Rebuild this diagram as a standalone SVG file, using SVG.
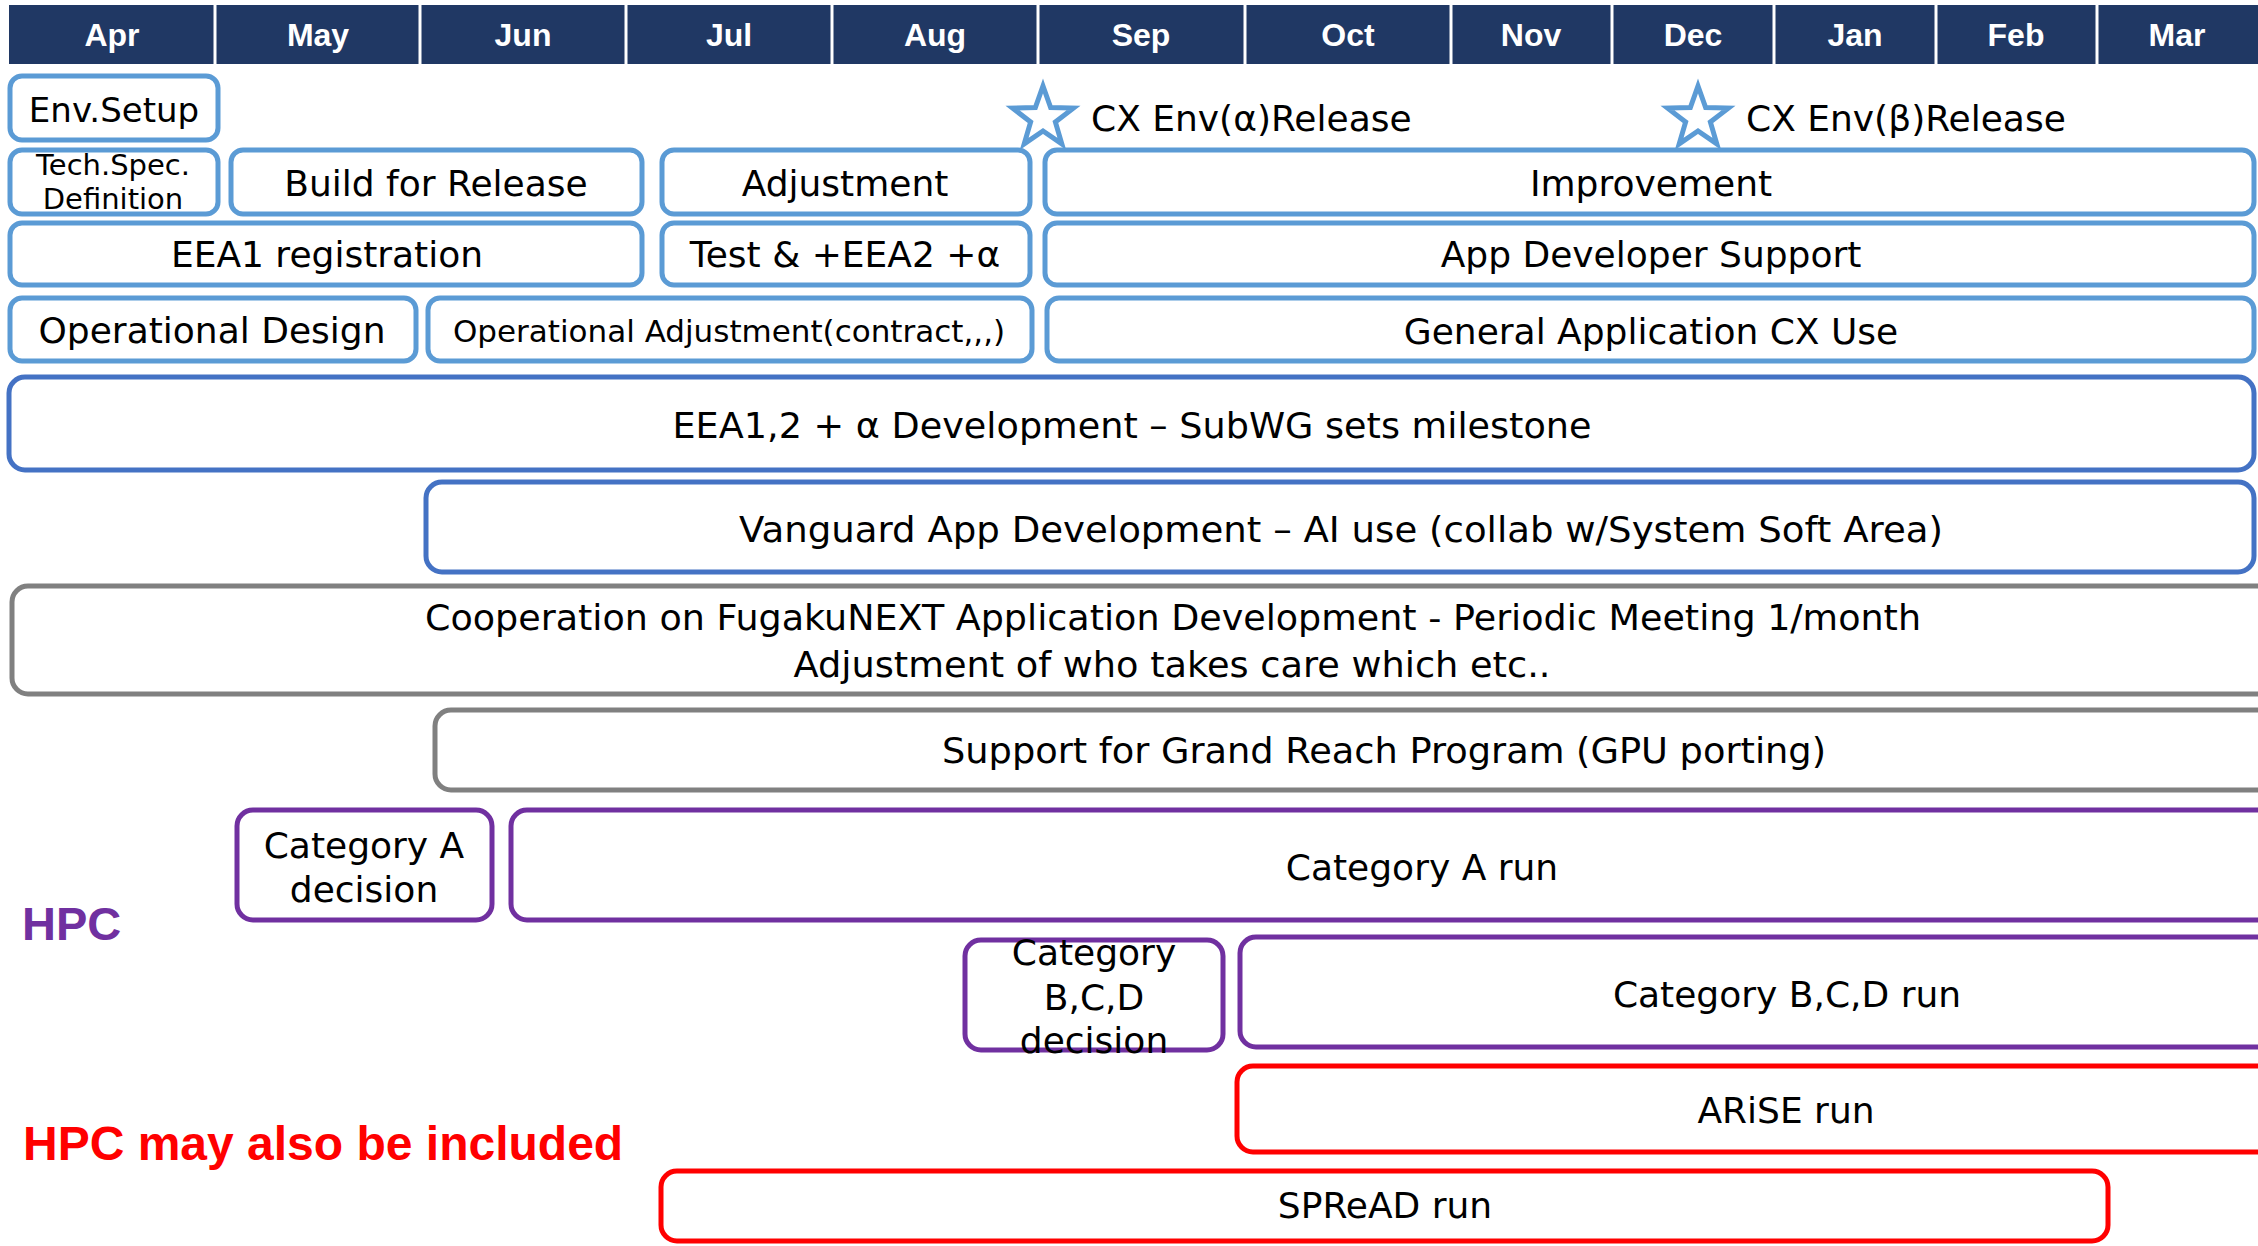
<svg xmlns="http://www.w3.org/2000/svg" width="2258" height="1246" viewBox="0 0 2258 1246">
<style>
.hdr{fill:#203864}
.mon{font-family:"Liberation Sans",Arial,sans-serif;font-weight:bold;font-size:32px;fill:#fff;text-anchor:middle}
.t{font-family:"DejaVu Sans",Verdana,sans-serif;font-size:36px;fill:#000;text-anchor:middle}
.lb{fill:#fff;stroke:#5B9BD5;stroke-width:5}
.db{fill:#fff;stroke:#4472C4;stroke-width:5}
.gr{fill:#fff;stroke:#808080;stroke-width:5}
.pu{fill:#fff;stroke:#7030A0;stroke-width:5}
.rd{fill:#fff;stroke:#FF0000;stroke-width:5}
.star{fill:#fff;stroke:#5B9BD5;stroke-width:5;stroke-linejoin:miter}
.big{font-family:"Liberation Sans",Arial,sans-serif;font-weight:bold;font-size:47px}
</style>
<defs>
<polygon id="starShape" class="star" points="0,-32 7.64,-10.52 30.43,-9.89 12.36,4.02 18.81,25.89 0,13 -18.81,25.89 -12.36,4.02 -30.43,-9.89 -7.64,-10.52"/>
</defs>
<rect width="2258" height="1246" fill="#fff"/>
<g id="header">
<rect class="hdr" x="9" y="5" width="2249" height="59"/>
<g stroke="#fff" stroke-width="3">
<line x1="215" y1="5" x2="215" y2="64"/><line x1="420" y1="5" x2="420" y2="64"/><line x1="626" y1="5" x2="626" y2="64"/><line x1="832" y1="5" x2="832" y2="64"/><line x1="1038" y1="5" x2="1038" y2="64"/><line x1="1245" y1="5" x2="1245" y2="64"/><line x1="1451" y1="5" x2="1451" y2="64"/><line x1="1612" y1="5" x2="1612" y2="64"/><line x1="1774" y1="5" x2="1774" y2="64"/><line x1="1936" y1="5" x2="1936" y2="64"/><line x1="2097" y1="5" x2="2097" y2="64"/>
</g>
<text class="mon" x="112" y="46">Apr</text><text class="mon" x="318" y="46">May</text><text class="mon" x="523" y="46">Jun</text><text class="mon" x="729" y="46">Jul</text><text class="mon" x="935" y="46">Aug</text><text class="mon" x="1141" y="46">Sep</text><text class="mon" x="1348" y="46">Oct</text><text class="mon" x="1531" y="46">Nov</text><text class="mon" x="1693" y="46">Dec</text><text class="mon" x="1855" y="46">Jan</text><text class="mon" x="2016" y="46">Feb</text><text class="mon" x="2177" y="46">Mar</text>
</g>
<g id="env-setup"><rect class="lb" x="10" y="76" width="208" height="64" rx="12"/><text class="t" x="114" y="122" style="font-size:34px">Env.Setup</text></g>
<g id="milestone-alpha"><use href="#starShape" x="1043" y="118"/><text class="t" x="1091" y="131" style="text-anchor:start">CX Env(α)Release</text></g>
<g id="milestone-beta"><use href="#starShape" x="1698" y="118"/><text class="t" x="1746" y="131" style="text-anchor:start">CX Env(β)Release</text></g>
<g id="tech-spec"><rect class="lb" x="10" y="150" width="208" height="64" rx="12"/><text class="t" x="113" y="175" style="font-size:29px">Tech.Spec.</text><text class="t" x="113" y="209" style="font-size:29px">Definition</text></g>
<g id="build"><rect class="lb" x="231" y="150" width="411" height="64" rx="12"/><text class="t" x="436" y="196">Build for Release</text></g>
<g id="adjustment"><rect class="lb" x="662" y="150" width="368" height="64" rx="12"/><text class="t" x="845" y="196">Adjustment</text></g>
<g id="improvement"><rect class="lb" x="1045" y="150" width="1209" height="64" rx="12"/><text class="t" x="1651" y="196">Improvement</text></g>
<g id="eea1-reg"><rect class="lb" x="10" y="223" width="632" height="62" rx="12"/><text class="t" x="327" y="267">EEA1 registration</text></g>
<g id="test-eea2"><rect class="lb" x="662" y="223" width="368" height="62" rx="12"/><text class="t" x="845" y="267">Test &amp; +EEA2 +α</text></g>
<g id="app-dev-support"><rect class="lb" x="1045" y="223" width="1209" height="62" rx="12"/><text class="t" x="1651" y="267">App Developer Support</text></g>
<g id="op-design"><rect class="lb" x="10" y="298" width="406" height="63" rx="12"/><text class="t" x="212" y="343">Operational Design</text></g>
<g id="op-adjust"><rect class="lb" x="428" y="298" width="604" height="63" rx="12"/><text class="t" x="729" y="342" style="font-size:31px">Operational Adjustment(contract,,,)</text></g>
<g id="general-cx"><rect class="lb" x="1047" y="298" width="1207" height="63" rx="12"/><text class="t" x="1651" y="344">General Application CX Use</text></g>
<g id="eea12-dev"><rect class="db" x="9" y="377" width="2245" height="93" rx="16"/><text class="t" x="1132" y="438" textLength="919" lengthAdjust="spacingAndGlyphs">EEA1,2 + α Development – SubWG sets milestone</text></g>
<g id="vanguard"><rect class="db" x="426" y="482" width="1828" height="90" rx="16"/><text class="t" x="1341" y="542" textLength="1204" lengthAdjust="spacingAndGlyphs">Vanguard App Development – AI use (collab w/System Soft Area)</text></g>
<g id="cooperation"><rect class="gr" x="12" y="586" width="2320" height="108" rx="16"/><text class="t" x="1173" y="630" textLength="1496" lengthAdjust="spacingAndGlyphs">Cooperation on FugakuNEXT Application Development - Periodic Meeting 1/month</text><text class="t" x="1172" y="677" textLength="757" lengthAdjust="spacingAndGlyphs">Adjustment of who takes care which etc..</text></g>
<g id="grand-reach"><rect class="gr" x="435" y="710" width="1900" height="80" rx="16"/><text class="t" x="1384" y="763" textLength="884" lengthAdjust="spacingAndGlyphs">Support for Grand Reach Program (GPU porting)</text></g>
<g id="hpc-label"><text class="big" x="22" y="940" fill="#7030A0">HPC</text></g>
<g id="cat-a-decision"><rect class="pu" x="237" y="810" width="255" height="110" rx="16"/><text class="t" x="364" y="858">Category A</text><text class="t" x="364" y="902">decision</text></g>
<g id="cat-a-run"><rect class="pu" x="511" y="810" width="1830" height="110" rx="16"/><text class="t" x="1422" y="880">Category A run</text></g>
<g id="cat-bcd-decision"><rect class="pu" x="965" y="940" width="258" height="110" rx="16"/><text class="t" x="1094" y="965">Category</text><text class="t" x="1094" y="1010">B,C,D</text><text class="t" x="1094" y="1053">decision</text></g>
<g id="cat-bcd-run"><rect class="pu" x="1240" y="937" width="1093" height="110" rx="16"/><text class="t" x="1787" y="1007">Category B,C,D run</text></g>
<g id="hpc-may-label"><text class="big" x="23" y="1160" fill="#FF0000" style="font-size:48px">HPC may also be included</text></g>
<g id="arise-run"><rect class="rd" x="1237" y="1066" width="1094" height="86" rx="16"/><text class="t" x="1786" y="1123">ARiSE run</text></g>
<g id="spread-run"><rect class="rd" x="661" y="1171" width="1447" height="70" rx="16"/><text class="t" x="1385" y="1218">SPReAD run</text></g>
<g id="connectors"></g>
</svg>
